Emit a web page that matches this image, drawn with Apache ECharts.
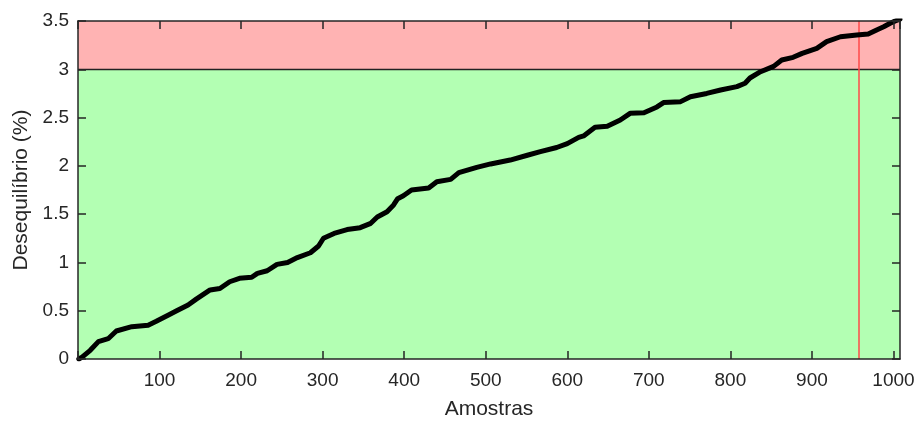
<!DOCTYPE html>
<html><head><meta charset="utf-8">
<script src="https://cdn.jsdelivr.net/npm/echarts@6/dist/echarts.min.js"></script>
<style>html,body{margin:0;padding:0;background:#fff}#c{width:916px;height:421px}</style>
</head><body><div id="c"></div>
<script>
var samples = [1,5,15,25,37,47,66,86,96,111,121,135,145,162,174,186,198,213,220,232,244,257,269,285,295,301,314,330,346,359,367,379,387,392,399,409,430,440,457,467,489,506,530,551,567,587,600,614,620,634,649,665,677,694,710,718,739,751,771,788,808,818,824,837,853,863,877,888,906,918,935,955,969,980,988,996,1002,1008];
var imbalance = [0,0.02,0.09,0.18,0.21,0.29,0.335,0.35,0.39,0.455,0.50,0.56,0.62,0.715,0.73,0.80,0.835,0.846,0.887,0.914,0.98,1.00,1.05,1.10,1.17,1.25,1.30,1.34,1.36,1.405,1.47,1.525,1.595,1.66,1.69,1.75,1.77,1.835,1.86,1.93,1.985,2.02,2.06,2.11,2.147,2.19,2.23,2.295,2.31,2.40,2.41,2.475,2.544,2.55,2.61,2.655,2.665,2.716,2.75,2.785,2.82,2.855,2.91,2.975,3.03,3.096,3.124,3.165,3.217,3.286,3.337,3.355,3.366,3.41,3.44,3.476,3.50,3.52];
var limit = 3;
var yMax = 3.5;
var markedSample = 958;
var xTicks = [100,200,300,400,500,600,700,800,900,1000];

var data = samples.map(function(s,i){return [s, imbalance[i]];});
var txt = '#262626';
var font = 'Liberation Sans, Arial, sans-serif';
var chart = echarts.init(document.getElementById('c'));
function axisBase(extra){
  return Object.assign({
    z:10, splitLine:{show:false},
    axisLine:{show:true, onZero:false, lineStyle:{color:txt, width:1.5}},
    axisTick:{show:true, inside:true, length:8, lineStyle:{color:txt, width:1.5}}
  }, extra);
}
chart.setOption({
  animation:false,
  grid:{left:78, right:16, top:21, bottom:62, containLabel:false, outerBoundsMode:'none'},
  xAxis:[
    axisBase({type:'value', min:0, max:1008, interval:100, position:'bottom', name:'Amostras', nameLocation:'middle', nameGap:40,
      nameTextStyle:{color:txt, fontSize:21, fontFamily:font},
      axisLabel:{color:txt, fontSize:19, fontFamily:font, margin:12, showMaxLabel:false,
        formatter:function(v){return xTicks.indexOf(v)>=0 ? String(v) : '';}}}),
    axisBase({type:'value', min:0, max:1008, interval:100, position:'top', axisLabel:{show:false}})
  ],
  yAxis:[
    axisBase({type:'value', min:0, max:yMax, interval:0.5, position:'left', name:'Desequilíbrio (%)', nameLocation:'middle', nameGap:46,
      nameTextStyle:{color:txt, fontSize:21, fontFamily:font},
      axisLabel:{color:txt, fontSize:19, fontFamily:font, margin:9}}),
    axisBase({type:'value', min:0, max:yMax, interval:0.5, position:'right', axisLabel:{show:false}})
  ],
  series:[{
    type:'line', data:data, showSymbol:false, symbol:'none', clip:true, z:5,
    lineStyle:{color:'#000', width:5, join:'round', cap:'round'},
    markArea:{silent:true, z:1, data:[
      [{yAxis:0, xAxis:0, itemStyle:{color:'#b3ffb3'}},{yAxis:limit, xAxis:1008}],
      [{yAxis:limit, xAxis:0, itemStyle:{color:'#ffb3b3'}},{yAxis:yMax, xAxis:1008}]
    ]},
    markLine:{silent:true, symbol:'none', label:{show:false}, z:3, data:[
      {yAxis:limit, lineStyle:{color:'#222', width:1.4, type:'solid'}},
      {xAxis:markedSample, lineStyle:{color:'#ff4a4a', width:1.5, type:'solid'}}
    ]}
  }]
});
</script></body></html>
